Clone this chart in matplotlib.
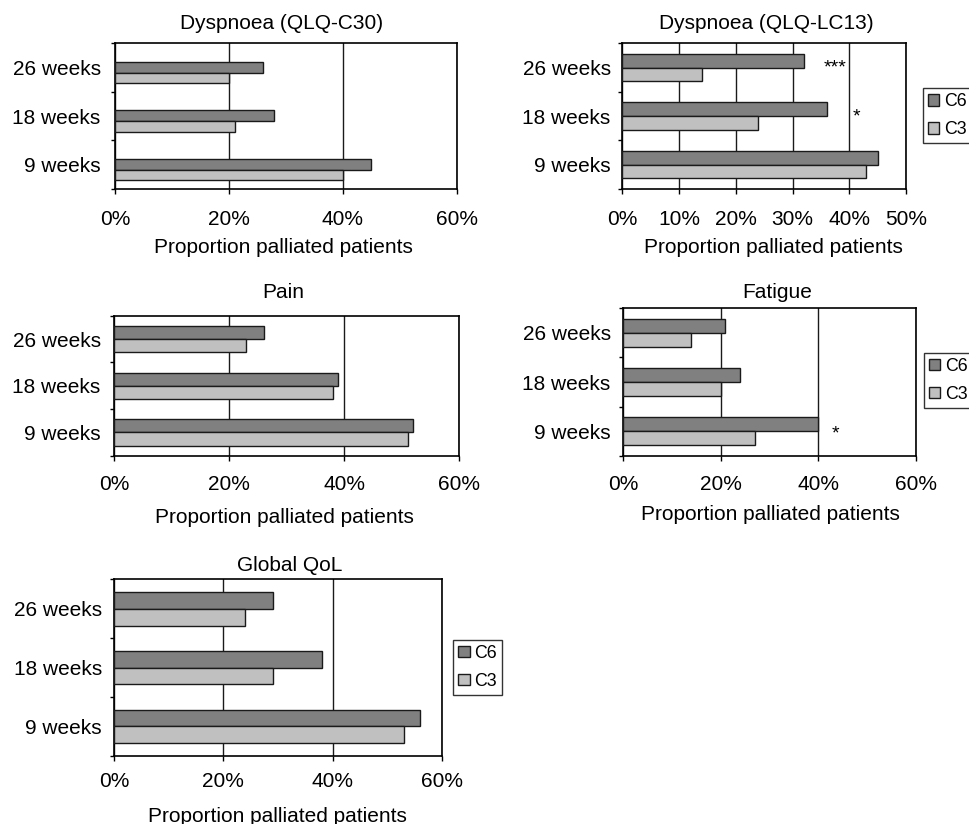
import matplotlib
matplotlib.use("Agg")
import matplotlib.pyplot as plt
from matplotlib.patches import Patch

plt.rcParams['font.family'] = ['Liberation Sans', 'DejaVu Sans']

W, H = 969, 824

categories = ['9 weeks', '18 weeks', '26 weeks']
series_names = ['C6', 'C3']

titles = ['Dyspnoea (QLQ-C30)', 'Dyspnoea (QLQ-LC13)', 'Pain', 'Fatigue', 'Global QoL']

dysp_c30_c6 = [45, 28, 26]
dysp_c30_c3 = [40, 21, 20]
dysp_lc13_c6 = [45, 36, 32]
dysp_lc13_c3 = [43, 24, 14]
pain_c6 = [52, 39, 26]
pain_c3 = [51, 38, 23]
fatigue_c6 = [40, 24, 21]
fatigue_c3 = [27, 20, 14]
qol_c6 = [56, 38, 29]
qol_c3 = [53, 29, 24]

xticks_60 = [0, 20, 40, 60]
xticks_50 = [0, 10, 20, 30, 40, 50]
xlabel = 'Proportion palliated patients'

C6_COLOR = '#808080'
C3_COLOR = '#c0c0c0'
EDGE = '#1a1a1a'
FS = 15
px = 72.0 / 100.0  # points per pixel

fig = plt.figure(figsize=(W / 100, H / 100), dpi=100)


def rect(l, r, t, b):
    return [l / W, 1 - b / H, (r - l) / W, (b - t) / H]


panels = [
    # data, box(l,r,t,b), xticks, bar geometry, title (xfrac, baseline px), xlabel (xfrac, top px), ticklabel pad px, ylabel pad px
    dict(c6=dysp_c30_c6, c3=dysp_c30_c3, box=(115, 456.7, 43.3, 188.7), xt=xticks_60,
         geo=(0.22, 0.005, -0.215), title=(0.488, 29.3), xl=(0.492, 238.3), tpad=16.5, ypad=14.3),
    dict(c6=dysp_lc13_c6, c3=dysp_lc13_c3, box=(622.3, 906, 43.3, 188.7), xt=xticks_50,
         geo=(0.285, 0.14, -0.145), title=(0.509, 29.3), xl=(0.532, 238.3), tpad=16.5, ypad=11.6),
    dict(c6=pain_c6, c3=pain_c3, box=(114, 459.3, 315.7, 455.7), xt=xticks_60,
         geo=(0.285, 0.14, -0.145), title=(0.491, 298.3), xl=(0.495, 508.3), tpad=14.8, ypad=13.3),
    dict(c6=fatigue_c6, c3=fatigue_c3, box=(623, 915.7, 308.3, 455.7), xt=xticks_60,
         geo=(0.285, 0.14, -0.145), title=(0.528, 298.3), xl=(0.505, 505), tpad=14.8, ypad=12.3),
    dict(c6=qol_c6, c3=qol_c3, box=(114, 442.3, 579.3, 755.5), xt=xticks_60,
         geo=(0.285, 0.14, -0.145), title=(0.534, 570.7), xl=(0.497, 806.7), tpad=12.2, ypad=12),
]

axes = []
for i, p in enumerate(panels):
    l, r, t, b = p['box']
    ax = fig.add_axes(rect(l, r, t, b))
    axes.append(ax)
    hgt, off6, off3 = p['geo']
    ypos = list(range(len(categories)))
    ax.barh([y + off6 for y in ypos], p['c6'], height=hgt, color=C6_COLOR,
            edgecolor=EDGE, linewidth=1.0, zorder=3)
    ax.barh([y + off3 for y in ypos], p['c3'], height=hgt, color=C3_COLOR,
            edgecolor=EDGE, linewidth=1.0, zorder=3)
    ax.set_xlim(p['xt'][0], p['xt'][-1])
    ax.set_ylim(-0.5, len(categories) - 0.5)
    ax.set_xticks(p['xt'])
    ax.set_xticklabels([f'{v}%' for v in p['xt']], fontsize=FS)
    ax.set_yticks([y - 0.5 for y in range(len(categories) + 1)])
    ax.set_yticklabels([])
    ax.set_yticks(ypos, minor=True)
    ax.set_yticklabels(categories, minor=True, fontsize=FS)
    ax.tick_params(axis='x', which='major', direction='out', length=4.5 * px,
                   width=1.0, pad=p['tpad'] * px, colors='black')
    ax.tick_params(axis='y', which='major', direction='out', length=4.5 * px, width=1.0)
    ax.tick_params(axis='y', which='minor', length=0, pad=p['ypad'] * px)
    ax.grid(axis='x', color='#1a1a1a', linewidth=1.0, zorder=0)
    ax.set_axisbelow(True)
    for s in ax.spines.values():
        s.set_linewidth(1.2)
        s.set_color('black')
    # title
    tx, tb = p['title']
    ax.text(tx, 1 + (t - tb) / (b - t), titles[i], transform=ax.transAxes,
            ha='center', va='baseline', fontsize=FS)
    # x label
    lx, lt = p['xl']
    ax.set_xlabel(xlabel, fontsize=FS)
    ax.xaxis.set_label_coords(lx, -(lt - b) / (b - t))

# significance markers
axes[1].text(37.5, 1.896, '***', ha='center', va='baseline', fontsize=14)
axes[1].text(41.2, 0.885, '*', ha='center', va='baseline', fontsize=14)
axes[3].text(43.5, -0.146, '*', ha='center', va='baseline', fontsize=14)

handles = [Patch(facecolor=C6_COLOR, edgecolor=EDGE, linewidth=1.0),
           Patch(facecolor=C3_COLOR, edgecolor=EDGE, linewidth=1.0)]
legend_pos = {1: (922.7, 88.3), 3: (924, 352.7), 4: (453.3, 639.7)}
for idx, (lx, ly) in legend_pos.items():
    leg = axes[idx].legend(handles, series_names, loc='upper left',
                           bbox_to_anchor=(lx / W, 1 - ly / H),
                           bbox_transform=fig.transFigure, borderaxespad=0,
                           fontsize=12.8, frameon=True, fancybox=False,
                           handlelength=0.64, handleheight=0.62,
                           handletextpad=0.26, labelspacing=0.62,
                           borderpad=0.28)
    leg.get_frame().set_edgecolor('black')
    leg.get_frame().set_linewidth(1.0)

fig.savefig('out.png', dpi=100)
